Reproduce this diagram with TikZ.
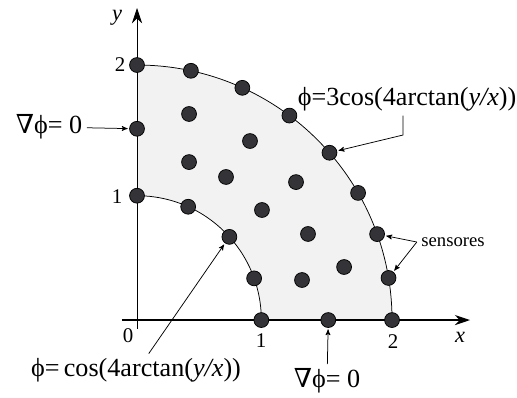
\documentclass[tikz,border=0pt]{standalone}
\usepackage{fontspec}
\setmainfont{Liberation Serif}
\newfontfamily\nablafont{DejaVu Serif}
\usepackage{tikz}
\usetikzlibrary{positioning,arrows,arrows.meta,calc}
\definecolor{regionfill}{RGB}{243,242,242}
\definecolor{dotgrey}{RGB}{52,52,56}
\newcommand{\grad}{{\nablafont ∇}}
\tikzset{>=stealth',
sensor/.style={circle,draw=black,fill=dotgrey,inner sep=0pt,minimum size=3.5mm,line width=0.5pt},
el/.style={font=\fontsize{17.5}{20}\selectfont,inner sep=1mm},
sl/.style={font=\fontsize{12.5}{14}\selectfont,inner sep=1mm},
tk/.style={font=\fontsize{14}{16}\selectfont,inner sep=0pt},
ptr/.style={->,line width=0.5pt,shorten >=1pt},
axis/.style={-{Stealth[length=3.6mm,width=2.4mm]}},
bd/.style={line width=0.5pt},
}

\begin{document}
\begin{tikzpicture}[x=3cm,y=3cm]
\useasboundingbox (-1.0745,-0.604) rectangle (2.980,2.510);

% region between the two arcs
\fill[regionfill] (0,0.975) arc[start angle=90,end angle=0,radius=0.975]
  -- (2,0) arc[start angle=0,end angle=90,radius=2] -- cycle;
\draw[bd] (0,0.975) arc[start angle=90,end angle=0,radius=0.975];
\draw[bd] (2,0) arc[start angle=0,end angle=90,radius=2];

% axes
\coordinate (xs) at (-0.118,0);
\coordinate (xe) at (2.612,0);
\coordinate (ys) at (0,-0.07);
\coordinate (ye) at (0,2.447);
\draw[axis,line width=0.9pt] (xs) -- (xe);
\draw[axis,bd] (ys) -- (ye);
\node[tk,font=\fontsize{15}{17}\selectfont\itshape] (xlab) at (2.533,-0.133) {x};
\node[tk,font=\fontsize{15}{17}\selectfont\itshape] (ylab) at (-0.157,2.369) {y};
\node[tk] (t0) at (-0.07,-0.125) {0};
\node[tk] (tx1) at (0.973,-0.165) {1};
\node[tk] (tx2) at (2.008,-0.165) {2};
\node[tk] (ty1) at (-0.157,0.965) {1};
\node[tk] (ty2) at (-0.133,2.0) {2};

% sensors on the outer arc
\foreach \a [count=\i] in {90,77.8,65.6,53.3,41,29.9,19.7,9.5,0}
  \node[sensor] (o\i) at (\a:2) {};
% sensors on the inner arc
\foreach \a [count=\i] in {90,65.7,42,19.6,0}
  \node[sensor] (i\i) at (\a:0.975) {};
% sensors on the axes
\node[sensor] (a1) at (1.5,0) {};
\node[sensor] (a2) at (0,1.5) {};
% sensors inside
\foreach \x/\y [count=\i] in {0.408/1.616,0.886/1.404,0.408/1.239,0.698/1.122,
  1.247/1.082,0.980/0.863,1.341/0.675,1.624/0.416,1.294/0.314}
  \node[sensor] (m\i) at (\x,\y) {};

% labels
\node[el] (topLbl) at (2.118,1.733) {ϕ=3cos(4arctan(\textit{y/x}))};
\node[el] (cosLbl) at (-0.008,-0.392) {ϕ=\,cos(4arctan(\textit{y/x}))};
\node[el] (leftLbl) at (-0.690,1.514) {\grad ϕ= 0};
\node[el] (botLbl) at (1.49,-0.478) {\grad ϕ= 0};
\node[sl] (sensLbl) at (2.478,0.612) {sensores};
\coordinate (topBend) at (2.086,1.451);

\path[ptr]
(leftLbl) edge (a2)
(botLbl) edge (a1)
([xshift=3mm]cosLbl.north) edge (i3)
(sensLbl.west) edge (o7)
(sensLbl.west) edge (o8)
;
\draw[ptr] (topLbl.south -| topBend) -- (topBend) -- (o5);
\end{tikzpicture}
\end{document}
